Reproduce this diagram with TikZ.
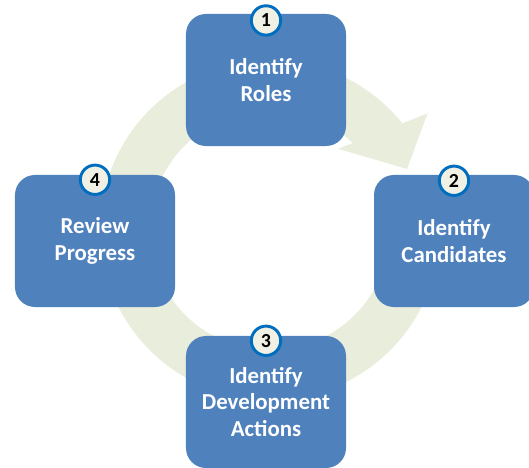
\documentclass[tikz,border=0pt]{standalone}
\usepackage{fontspec}
\setmainfont{Carlito}
\usepackage{tikz}
\definecolor{boxblue}{RGB}{79,129,189}
\definecolor{ringgreen}{RGB}{233,237,220}
\definecolor{discblue}{RGB}{0,110,190}
\definecolor{disccream}{RGB}{240,241,228}

\begin{document}
\begin{tikzpicture}[x=0.03cm,y=0.03cm]
\tikzstyle{stage}=[rectangle, rounded corners=0.6cm, fill=boxblue, minimum width=4.8cm, minimum height=3.96cm, text width=4.5cm, align=center, text=white, font=\fontsize{19.5}{22.5}\selectfont\bfseries]
\tikzstyle{badge}=[circle, fill=disccream, draw=discblue, line width=2.5pt, minimum size=0.88cm, inner sep=0pt, font=\fontsize{17}{17}\selectfont\bfseries]
\useasboundingbox (0,0) rectangle (529,467);
% circular arrow behind the boxes
\begin{scope}[shift={(270,237)}]
\fill [ringgreen] (-5:170) arc [start angle=-5, end angle=-321, radius=170]
  -- (39:120) arc [start angle=-321, end angle=-5, radius=120] -- cycle;
\fill [ringgreen] (50:106) -- (36.5:196) -- (24:150) -- cycle;
\end{scope}
% the four steps
\node [stage] (roles) at (266,387) {Identify\\Roles};
\node [stage] (cands) at (454,226) {Identify\\Candidates};
\node [stage] (actions) at (266,65) {Identify\\Development\\Actions};
\node [stage] (review) at (95,226) {Review\\Progress};
\node [badge] (n1) at ([yshift=-0.2cm]roles.north) {1};
\node [badge] (n2) at ([yshift=-0.18cm]cands.north) {2};
\node [badge] (n3) at ([yshift=-0.15cm]actions.north) {3};
\node [badge] (n4) at ([yshift=-0.15cm]review.north) {4};
\end{tikzpicture}
\end{document}
